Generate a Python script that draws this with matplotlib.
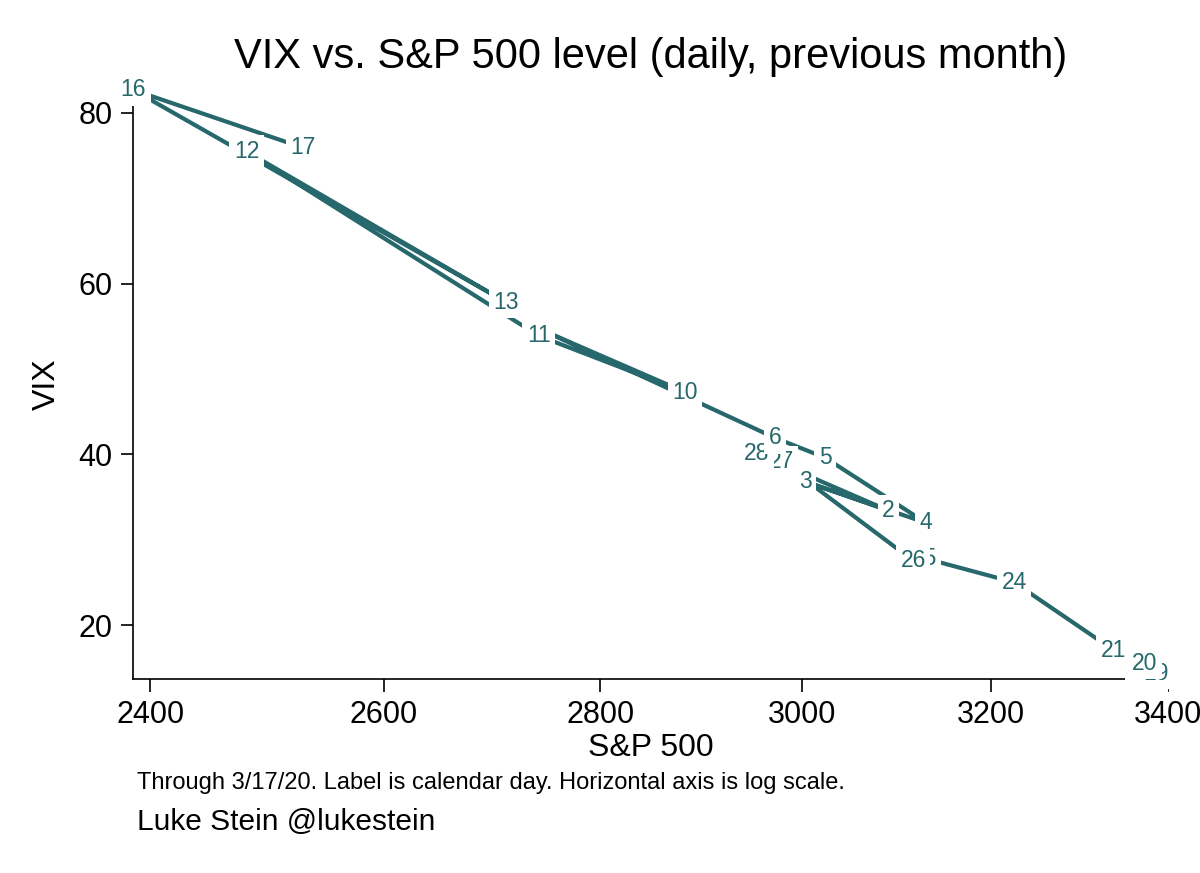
import matplotlib
matplotlib.use("Agg")
import matplotlib.pyplot as plt
from matplotlib.ticker import FixedLocator, NullLocator

plt.rcParams["font.family"] = ["Liberation Sans", "DejaVu Sans"]

# Calendar day of each trading session, 2/14/20 through 3/17/20
days = [14, 18, 19, 20, 21, 24, 25, 26, 27, 28,
        2, 3, 4, 5, 6, 9, 10, 11, 12, 13, 16, 17]
sp500 = [3380.16, 3370.29, 3386.15, 3373.23, 3337.75, 3225.89, 3128.21,
         3116.39, 2978.76, 2954.22, 3090.23, 3003.37, 3130.12, 3023.94,
         2972.37, 2746.56, 2882.23, 2741.38, 2480.64, 2711.02, 2386.13,
         2529.19]
vix = [13.68, 14.83, 14.38, 15.56, 17.08, 25.03, 27.85, 27.56, 39.16,
       40.11, 33.42, 36.82, 31.99, 39.62, 41.94, 54.46, 47.30, 53.90,
       75.47, 57.83, 82.69, 75.91]

x_ticks = [2400, 2600, 2800, 3000, 3200, 3400]
y_ticks = [20, 40, 60, 80]

LINE_COLOR = "#26686b"

fig = plt.figure(figsize=(12, 8.73), dpi=100)
ax = fig.add_axes([0.111, 0.222, 0.862, 0.675])

ax.plot(sp500, vix, color=LINE_COLOR, linewidth=3.0, zorder=2, clip_on=False,
        solid_capstyle="butt")
for d, x, y in zip(days, sp500, vix):
    ax.text(x, y, str(d), ha="center", va="center", fontsize=16.5,
            color=LINE_COLOR, zorder=3, clip_on=False,
            bbox=dict(boxstyle="square,pad=0.2", fc="white", ec="none"))

ax.set_xscale("log")
ax.set_xlim(min(sp500), 3400)
ax.set_ylim(min(vix), max(vix))
ax.xaxis.set_major_locator(FixedLocator(x_ticks))
ax.xaxis.set_minor_locator(NullLocator())
ax.set_xticks(x_ticks)
ax.set_xticklabels([str(t) for t in x_ticks])
ax.set_yticks(y_ticks)

ax.spines["top"].set_visible(False)
ax.spines["right"].set_visible(False)
for s in ("left", "bottom"):
    ax.spines[s].set_linewidth(1.2)
ax.tick_params(axis="both", labelsize=22, length=9, width=1.2, pad=6)

ax.set_xlabel("S&P 500", fontsize=23, labelpad=2)
ax.set_ylabel("VIX", fontsize=23, labelpad=12)
fig.text(0.542, 0.935, "VIX vs. S&P 500 level (daily, previous month)",
         ha="center", va="center", fontsize=30)
fig.text(0.114, 0.103,
         "Through 3/17/20. Label is calendar day. Horizontal axis is log scale.",
         ha="left", va="center", fontsize=17)
fig.text(0.114, 0.058, "Luke Stein @lukestein", ha="left", va="center",
         fontsize=21.5)

fig.savefig("out.png", dpi=100)
